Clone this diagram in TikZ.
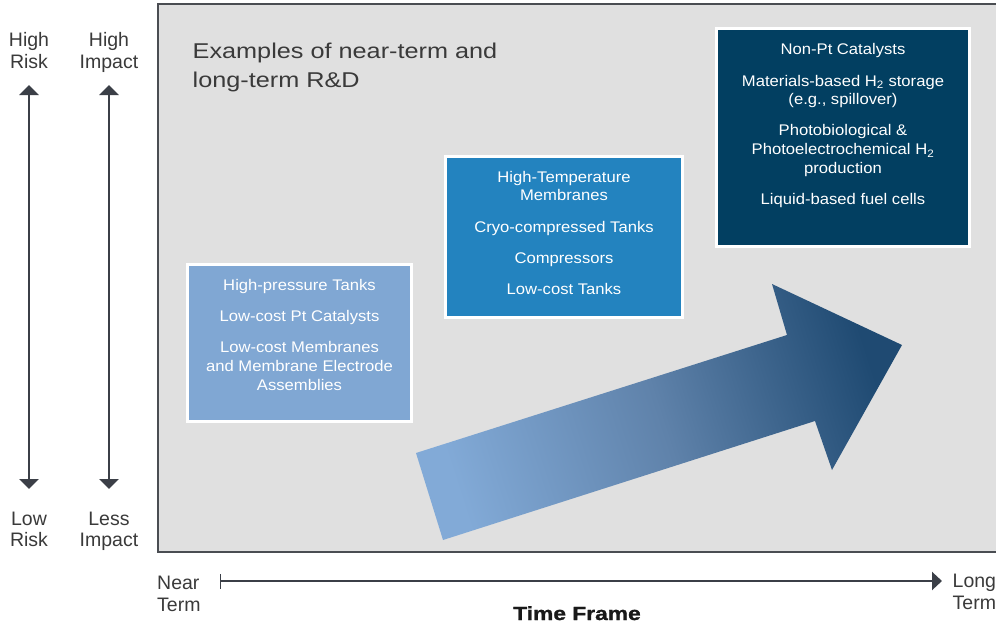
\documentclass[tikz,border=0pt]{standalone}
\usepackage{fontspec}
\setmainfont{Liberation Sans}
\newfontfamily\titlefont[FakeStretch=1.18]{Liberation Sans}
\newfontfamily\boxfont[FakeStretch=1.08]{Liberation Sans}
\newfontfamily\tffont[FakeStretch=1.2, FakeBold=1.3]{Liberation Sans Bold}
\usetikzlibrary{arrows.meta}
\definecolor{panelgray}{HTML}{E0E0E0}
\definecolor{panelline}{HTML}{4A4D52}
\definecolor{boxA}{HTML}{80A7D3}
\definecolor{boxB}{HTML}{2383BF}
\definecolor{boxC}{HTML}{023F61}
\definecolor{arrA}{HTML}{82AAD7}
\definecolor{arrM}{HTML}{5F82AA}
\definecolor{arrB}{HTML}{1F4A72}
\definecolor{axcol}{HTML}{3B3F47}
\definecolor{labcol}{HTML}{3A3A3A}
\begin{document}
\begin{tikzpicture}[x=1pt,y=-1pt,
  box/.style={draw=white, line width=3pt, inner sep=0pt},
  bt/.style={font=\boxfont\fontsize{15.4}{19}\selectfont, text=white, anchor=base, inner sep=0pt},
  side/.style={font=\fontsize{19.5}{22}\selectfont, text=labcol, anchor=base, inner sep=0pt},
  sidew/.style={side, anchor=base west},
  ttl/.style={font=\titlefont\fontsize{21.4}{28}\selectfont, text=labcol, anchor=base west, inner sep=0pt},
  axline/.style={draw=axcol, line width=2.4pt}
]
\useasboundingbox (0,0) rectangle (996,624);
\clip (0,0) rectangle (996,624);
\fill[white] (0,0) rectangle (996,624);

% panel
\path[draw=panelline, line width=2pt, fill=panelgray] (158,4) rectangle (1002,552);

% title
\node[ttl] (title1) at (192.5,58.5) {Examples of near-term and};
\node[ttl] (title2) at (192.5,87) {long-term R\&D};

% big arrow
\path[left color=arrA, right color=arrB, middle color=arrM, shading angle=107.8]
  (416,453) -- (787,335) -- (772,284) -- (902,345) -- (832,470) -- (815,421) -- (443,540) -- cycle;

% boxes
\node[box, fill=boxA, minimum width=224pt, minimum height=157pt] (b1) at (299.5,343) {};
\node[box, fill=boxB, minimum width=237pt, minimum height=161pt] (b2) at (564,237) {};
\node[box, fill=boxC, minimum width=253pt, minimum height=218pt] (b3) at (843,137.5) {};

% box 1 text
\node[bt] (b1l1) at (299.5,290.5) {High-pressure Tanks};
\node[bt] (b1l2) at (299.5,321.5) {Low-cost Pt Catalysts};
\node[bt] (b1l3) at (299.5,352.5) {Low-cost Membranes};
\node[bt] (b1l4) at (299.5,371.5) {and Membrane Electrode};
\node[bt] (b1l5) at (299.5,390.5) {Assemblies};

% box 2 text
\node[bt] (b2l1) at (564,182.5) {High-Temperature};
\node[bt] (b2l2) at (564,200.5) {Membranes};
\node[bt] (b2l3) at (564,232.5) {Cryo-compressed Tanks};
\node[bt] (b2l4) at (564,263.5) {Compressors};
\node[bt] (b2l5) at (564,294.5) {Low-cost Tanks};

% box 3 text
\node[bt] (b3l1) at (843,54.5) {Non-Pt Catalysts};
\node[bt] (b3l2) at (843,86) {Materials-based H\textsubscript{2} storage};
\node[bt] (b3l3) at (843,104.5) {(e.g., spillover)};
\node[bt] (b3l4) at (843,135.5) {Photobiological \&};
\node[bt] (b3l5) at (843,154.5) {Photoelectrochemical H\textsubscript{2}};
\node[bt] (b3l6) at (843,173.5) {production};
\node[bt] (b3l7) at (843,204.5) {Liquid-based fuel cells};

% side labels
\node[side] (hr1) at (29,46.5) {High};
\node[side] (hr2) at (29,68.5) {Risk};
\node[side] (hi1) at (109,46.5) {High};
\node[side] (hi2) at (109,68.5) {Impact};
\node[side] (lr1) at (29,525) {Low};
\node[side] (lr2) at (29,546) {Risk};
\node[side] (li1) at (109,525) {Less};
\node[side] (li2) at (109,546) {Impact};

% vertical arrows
\coordinate (rtop) at (29,85);
\coordinate (rbot) at (29,489);
\coordinate (itop) at (109,85);
\coordinate (ibot) at (109,489);
\draw[axline, {Triangle[width=19pt,length=10pt]}-{Triangle[width=19pt,length=10pt]}] (rtop) -- (rbot);
\draw[axline, {Triangle[width=19pt,length=10pt]}-{Triangle[width=19pt,length=10pt]}] (itop) -- (ibot);

% time axis
\coordinate (t0) at (220,581);
\coordinate (t1) at (942,581);
\draw[axline, line width=2.2pt, {Bar[width=15pt,line width=0.9pt]}-{Triangle[width=18pt,length=10pt]}] (t0) -- (t1);
\node[sidew] (near1) at (157,589.5) {Near};
\node[sidew] (near2) at (157,611.5) {Term};
\node[sidew] (long1) at (952.5,587.5) {Long};
\node[sidew] (long2) at (952.5,609.5) {Term};
\node[font=\tffont\fontsize{19}{22}\selectfont, text=black!90, anchor=base, inner sep=0pt] (tf) at (577,620) {Time Frame};
\end{tikzpicture}
\end{document}
